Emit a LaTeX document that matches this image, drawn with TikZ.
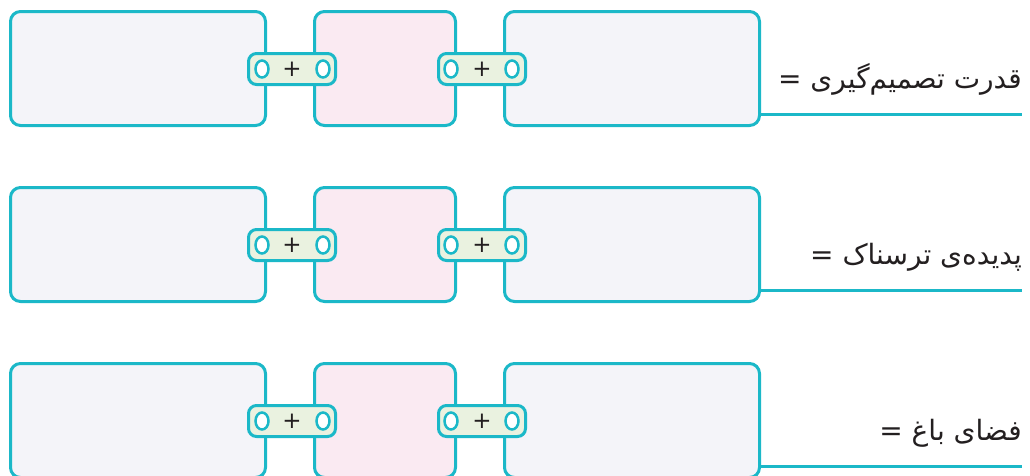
\documentclass[tikz,border=0pt]{standalone}
\usepackage{fontspec}
\usetikzlibrary{shapes.geometric}
\newfontfamily\arabicfont[Script=Arabic]{DejaVu Sans}
\TeXXeTstate=1
\definecolor{frame}{HTML}{1BB8C8}
\definecolor{cardfill}{HTML}{F4F4F9}
\definecolor{pinkfill}{HTML}{FAEAF2}
\definecolor{linkfill}{HTML}{EAF2E0}
\definecolor{ink}{HTML}{231F20}

\begin{document}
\begin{tikzpicture}[x=1pt,y=-1pt,
						card/.style={draw=frame, line width=3pt, rounded corners=10pt, fill=cardfill, minimum height=114pt, inner sep=0pt},
						widecard/.style={card, minimum width=255pt},
						midcard/.style={card, fill=pinkfill, minimum width=141pt},
						link/.style={draw=frame, line width=3pt, rounded corners=8pt, fill=linkfill, minimum width=87pt, minimum height=31pt, inner sep=0pt, text=ink, font=\arabicfont\fontsize{23}{23}\selectfont},
						hole/.style={ellipse, draw=frame, line width=2.5pt, fill=white, minimum width=13pt, minimum height=17pt, inner sep=0pt},
						word/.style={anchor=base east, inner sep=0pt, text=ink, font=\arabicfont\fontsize{28}{28}\selectfont},
						rule/.style={draw=frame, line width=3pt},
						]
						\clip (0,0) rectangle (1030,475);
						%Row 1
						\node[widecard]      (left1) 	at 	(138,68.5)      {};
						\node[midcard]       (mid1) 	at 	(385,68.5)      {};
						\node[widecard]      (right1) 	at 	(632,68.5)      {};
						\node[link]          (link1a) 	at 	(292,69)        {+};
						\node[link]          (link1b) 	at 	(482,69)        {+};
						\node[hole]          (h1a) 	at 	(262,69)        {};
						\node[hole]          (h1b) 	at 	(323,69)        {};
						\node[hole]          (h1c) 	at 	(451,69)        {};
						\node[hole]          (h1d) 	at 	(512,69)        {};
						\node[word]          (t1) 	at 	(1022,88)       {\beginR قدرت تصمیم‌گیری =\endR};
						\coordinate          (end1) 	at 	(1022,114);
						\draw[rule] (right1.east |- end1) -- (end1);

						%Row 2
						\node[widecard]      (left2) 	at 	(138,244.5)     {};
						\node[midcard]       (mid2) 	at 	(385,244.5)     {};
						\node[widecard]      (right2) 	at 	(632,244.5)     {};
						\node[link]          (link2a) 	at 	(292,245)       {+};
						\node[link]          (link2b) 	at 	(482,245)       {+};
						\node[hole]          (h2a) 	at 	(262,245)       {};
						\node[hole]          (h2b) 	at 	(323,245)       {};
						\node[hole]          (h2c) 	at 	(451,245)       {};
						\node[hole]          (h2d) 	at 	(512,245)       {};
						\node[word]          (t2) 	at 	(1022,264)      {\beginR پدیده‌ی ترسناک =\endR};
						\coordinate          (end2) 	at 	(1022,290);
						\draw[rule] (right2.east |- end2) -- (end2);

						%Row 3
						\node[widecard]      (left3) 	at 	(138,420.5)     {};
						\node[midcard]       (mid3) 	at 	(385,420.5)     {};
						\node[widecard]      (right3) 	at 	(632,420.5)     {};
						\node[link]          (link3a) 	at 	(292,421)       {+};
						\node[link]          (link3b) 	at 	(482,421)       {+};
						\node[hole]          (h3a) 	at 	(262,421)       {};
						\node[hole]          (h3b) 	at 	(323,421)       {};
						\node[hole]          (h3c) 	at 	(451,421)       {};
						\node[hole]          (h3d) 	at 	(512,421)       {};
						\node[word]          (t3) 	at 	(1022,440)      {\beginR فضای باغ =\endR};
						\coordinate          (end3) 	at 	(1022,466);
						\draw[rule] (right3.east |- end3) -- (end3);
					\end{tikzpicture}
\end{document}
